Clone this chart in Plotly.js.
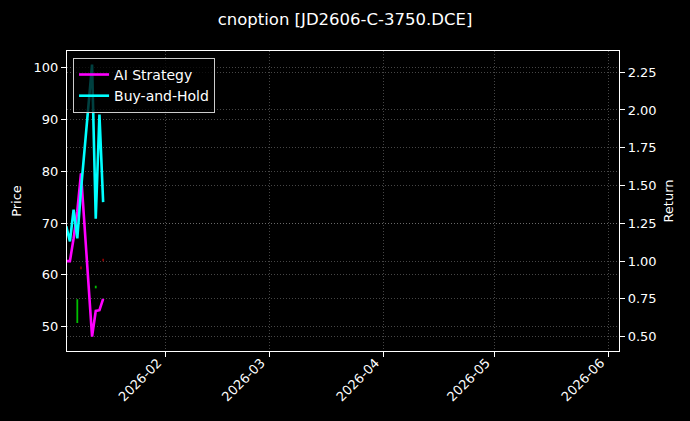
<!DOCTYPE html>
<html>
<head>
<meta charset="utf-8">
<script src="https://cdn.plot.ly/plotly-3.0.1.min.js"></script>
<style>
  html, body { margin: 0; padding: 0; background: #000; }
  #chart { width: 690px; height: 421px; }
</style>
</head>
<body>
<div id="chart"></div>
<script>
// trading days shown in the picture
dates = ['2026-01-05', '2026-01-06', '2026-01-07', '2026-01-08', '2026-01-09',
         '2026-01-12', '2026-01-13', '2026-01-14', '2026-01-15']

// cumulative returns (right axis)
aiReturn   = [1.00, 1.00, 1.15, 1.33, 1.58, 0.50, 0.67, 0.675, 0.75]
holdReturn = [1.23, 1.13, 1.34, 1.15, 1.47, 2.30, 1.28, 1.97, 1.39]

// price bars (left axis), only the ones that are visible
candleDates = ['2026-01-05', '2026-01-08', '2026-01-09', '2026-01-13', '2026-01-15']
candleOpen  = [51.0, 50.8, 61.5, 57.5, 63.0]
candleHigh  = [51.1, 55.3, 61.6, 57.9, 63.1]
candleLow   = [50.6, 50.7, 61.1, 57.4, 62.6]
candleClose = [50.7, 55.3, 61.2, 57.8, 62.7]

monthTicks  = ['2026-02-01', '2026-03-01', '2026-04-01', '2026-05-01', '2026-06-01']
monthLabels = ['2026-02', '2026-03', '2026-04', '2026-05', '2026-06']

font_ = { family: 'DejaVu Sans', color: '#ffffff', size: 13 }
gridColor = 'rgba(140,140,140,0.5)'

traces = [
  {
    type: 'ohlc',
    x: candleDates,
    open: candleOpen,
    high: candleHigh,
    low: candleLow,
    close: candleClose,
    yaxis: 'y',
    showlegend: false,
    tickwidth: 0,
    increasing: { line: { color: '#00c000', width: 1.8 } },
    decreasing: { line: { color: '#a00000', width: 1.5 } }
  },
  {
    type: 'scatter',
    mode: 'lines',
    name: 'AI Strategy',
    x: dates,
    y: aiReturn,
    yaxis: 'y2',
    line: { color: '#ff00ff', width: 2.6 }
  },
  {
    type: 'scatter',
    mode: 'lines',
    name: 'Buy-and-Hold',
    x: dates,
    y: holdReturn,
    yaxis: 'y2',
    line: { color: '#00ffff', width: 2.6 }
  }
]

layout = {
  width: 690,
  height: 421,
  margin: { l: 67, r: 71, t: 51, b: 70 },
  paper_bgcolor: '#000000',
  plot_bgcolor: '#000000',
  font: font_,
  title: {
    text: 'cnoption [JD2606-C-3750.DCE]',
    font: { family: 'DejaVu Sans', color: '#ffffff', size: 16.5 },
    x: 0.5,
    xanchor: 'center',
    y: 0.955,
    yanchor: 'middle'
  },
  showlegend: true,
  legend: {
    x: 0.011, y: 0.977, xanchor: 'left', yanchor: 'top',
    bgcolor: 'rgba(0,0,0,0.75)',
    bordercolor: '#cccccc',
    borderwidth: 1,
    font: { family: 'DejaVu Sans', color: '#ffffff', size: 14 },
    tracegroupgap: 0
  },
  xaxis: {
    type: 'date',
    range: ['2026-01-05 05:00', '2026-06-03 19:00'],
    tickvals: monthTicks,
    ticktext: monthLabels,
    tickangle: -45,
    ticklabelshift: -8,
    ticklabelstandoff: -7,
    ticks: 'outside',
    ticklen: 5,
    tickcolor: '#ffffff',
    showline: true,
    linecolor: '#ffffff',
    linewidth: 1.2,
    mirror: true,
    showgrid: true,
    gridcolor: gridColor,
    griddash: '1px,2px',
    gridwidth: 0.7,
    zeroline: false,
    rangeslider: { visible: false },
    tickfont: font_
  },
  yaxis: {
    title: { text: 'Price', font: font_, standoff: 8 },
    range: [45.3, 103.2],
    dtick: 10,
    ticks: 'outside',
    ticklen: 5,
    tickcolor: '#ffffff',
    showline: true,
    linecolor: '#ffffff',
    linewidth: 1.2,
    showgrid: true,
    gridcolor: gridColor,
    griddash: '1px,2px',
    gridwidth: 0.7,
    zeroline: false,
    tickfont: font_
  },
  yaxis2: {
    title: { text: 'Return', font: font_, standoff: 8 },
    overlaying: 'y',
    side: 'right',
    range: [0.405, 2.39],
    dtick: 0.25,
    tick0: 0,
    tickformat: '.2f',
    ticks: 'outside',
    ticklen: 5,
    tickcolor: '#ffffff',
    showline: true,
    linecolor: '#ffffff',
    linewidth: 1.2,
    showgrid: true,
    gridcolor: gridColor,
    griddash: '1px,2px',
    gridwidth: 0.7,
    zeroline: false,
    tickfont: font_
  }
}

Plotly.newPlot('chart', traces, layout, { displayModeBar: false, responsive: false })
</script>
</body>
</html>
